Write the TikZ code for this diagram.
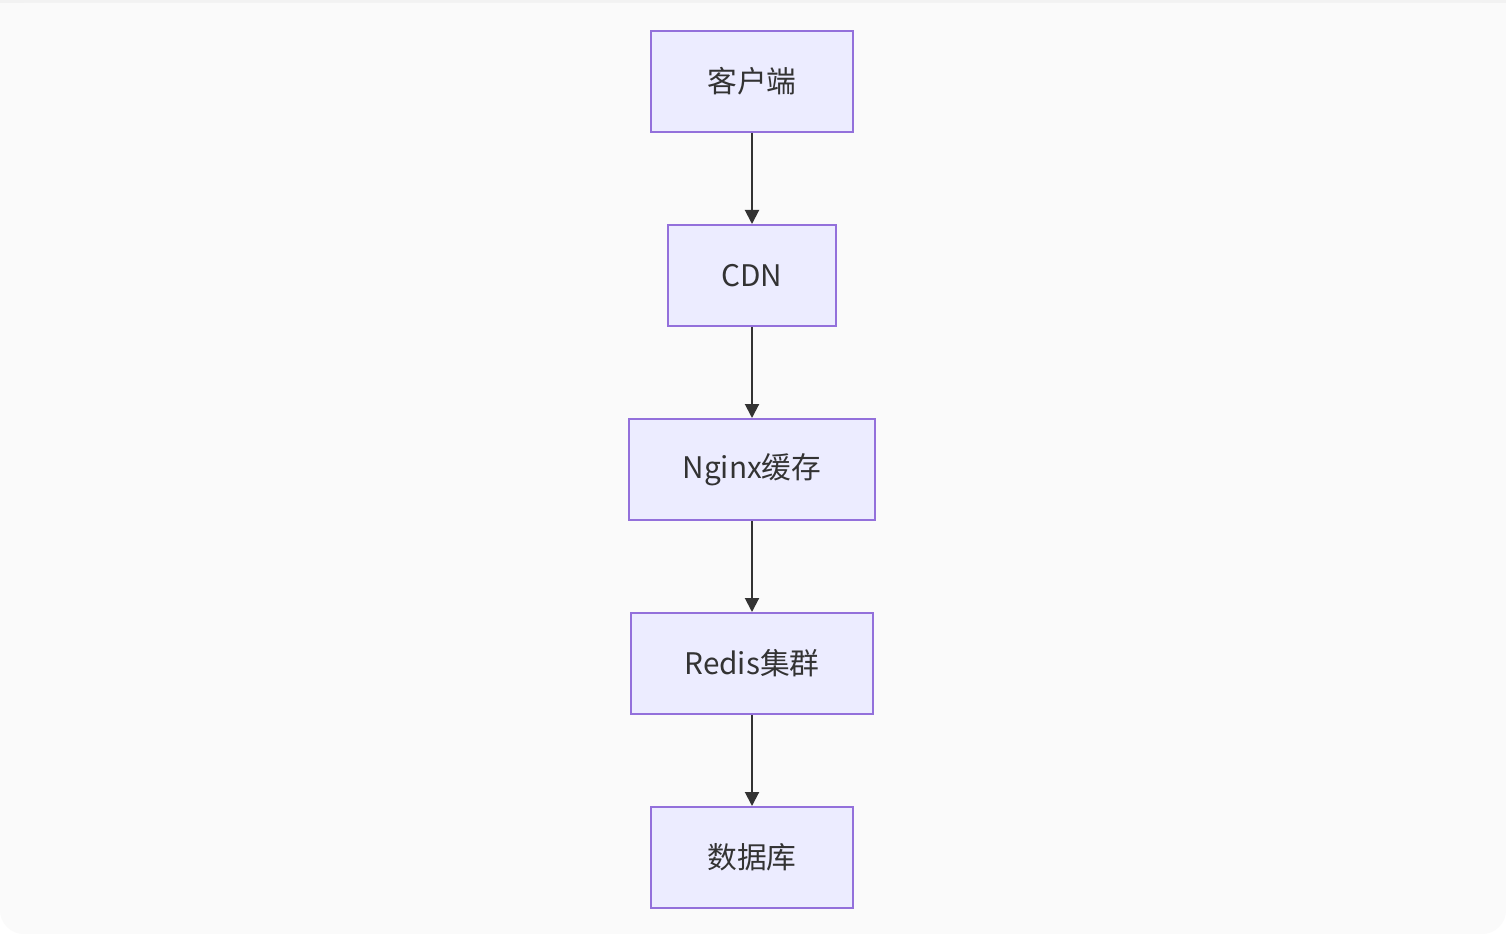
\documentclass[tikz,border=0pt]{standalone}
\usepackage{fontspec}
\setmainfont{Noto Sans CJK SC}
\usetikzlibrary{arrows.meta}
\definecolor{bgc}{HTML}{FAFAFA}
\definecolor{topc}{HTML}{F2F2F2}
\definecolor{boxfill}{HTML}{ECECFF}
\definecolor{boxline}{HTML}{9370DB}
\definecolor{txt}{HTML}{333333}
\tikzset{
  flowbox/.style={draw=boxline, fill=boxfill, line width=1.5pt, rectangle,
    minimum height=75.75pt, inner sep=0pt, text=txt,
    font=\fontsize{22.3}{26}\selectfont},
  flowarrow/.style={draw=txt, line width=1.5pt, -{Triangle[length=10.5pt,width=10.5pt]}, shorten >=0pt}
}
\begin{document}
\begin{tikzpicture}[x=0.75pt,y=-0.75pt]
\useasboundingbox (0,0) rectangle (1506,934);
\fill[white] (0,0) rectangle (1506,934);
\fill[topc] (0,0) rectangle (1506,4);
\fill[bgc, rounded corners=18pt] (0,3) rectangle (1506,934);
\fill[bgc] (0,3) rectangle (1506,40);
\node[flowbox, minimum width=151.5pt] (a) at (752,81.5) {客户端};
\node[flowbox, minimum width=126pt] (b) at (752,275.5) {CDN};
\node[flowbox, minimum width=184.5pt] (c) at (752,469.5) {Nginx缓存};
\node[flowbox, minimum width=181.5pt] (d) at (752,663.5) {Redis集群};
\node[flowbox, minimum width=151.5pt] (e) at (752,857.5) {数据库};
\draw[flowarrow] (a) -- (b);
\draw[flowarrow] (b) -- (c);
\draw[flowarrow] (c) -- (d);
\draw[flowarrow] (d) -- (e);
\end{tikzpicture}
\end{document}
